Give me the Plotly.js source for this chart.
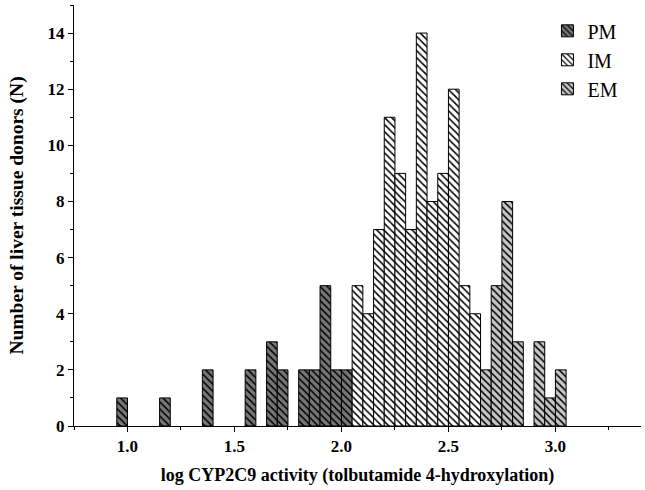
<!DOCTYPE html>
<html>
<head>
<meta charset="utf-8">
<script src="https://cdn.plot.ly/plotly-3.0.1.min.js"></script>
<style>html,body{margin:0;padding:0;background:#fff;}#chart{width:645px;height:490px;}</style>
</head>
<body>
<div id="chart"></div>
<script>
// Bin left edges (log units, bin width 0.05) and donor counts per phenotype group
const binWidth = 0.05;
const pmBins = [0.95, 1.15, 1.35, 1.55, 1.65, 1.70, 1.80, 1.85, 1.90, 1.95, 2.00];
const pmCounts = [1, 1, 2, 2, 3, 2, 2, 2, 5, 2, 2];
const imBins = [2.05, 2.10, 2.15, 2.20, 2.25, 2.30, 2.35, 2.40, 2.45, 2.50, 2.55, 2.60];
const imCounts = [5, 4, 7, 11, 9, 7, 14, 8, 9, 12, 5, 4];
const emBins = [2.65, 2.70, 2.75, 2.80, 2.90, 2.95, 3.00];
const emCounts = [2, 5, 8, 3, 3, 1, 2];
const groupNames = ['PM', 'IM', 'EM'];
const xTickVals = [1.0, 1.5, 2.0, 2.5, 3.0];
const xTickText = ['1.0', '1.5', '2.0', '2.5', '3.0'];
const yTickVals = [0, 2, 4, 6, 8, 10, 12, 14];

const serif = 'Liberation Serif, Times New Roman, serif';

function barTrace(name, bins, counts, fill) {
  return {
    type: 'bar',
    name: name,
    x: bins,
    y: counts,
    width: binWidth,
    offset: 0,
    marker: {
      color: fill,
      line: {color: '#000', width: 1},
      pattern: {shape: '\\', fgcolor: '#000', bgcolor: fill, size: 5, solidity: 0.3, fillmode: 'replace'}
    },
    hoverinfo: 'x+y'
  };
}

const data = [
  barTrace(groupNames[0], pmBins, pmCounts, '#777777'),
  barTrace(groupNames[1], imBins, imCounts, '#ffffff'),
  barTrace(groupNames[2], emBins, emCounts, '#c6c6c6')
];

const layout = {
  width: 645, height: 490,
  margin: {l: 74, r: 4, t: 5, b: 64},
  paper_bgcolor: '#fff', plot_bgcolor: '#fff',
  barmode: 'overlay',
  bargap: 0,
  showlegend: true,
  legend: {
    x: 0.835, y: 0.985, xanchor: 'left', yanchor: 'top',
    font: {family: serif, size: 20, color: '#000'},
    bgcolor: 'rgba(0,0,0,0)', tracegroupgap: 0,
    traceorder: 'normal'
  },
  xaxis: {
    range: [0.75, 3.4],
    tickvals: xTickVals, ticktext: xTickText,
    ticks: 'outside', ticklen: 5, tickwidth: 1, tickcolor: '#000',
    minor: {dtick: 0.25, tick0: 0.75, ticks: 'outside', ticklen: 3, tickwidth: 1, tickcolor: '#000', showgrid: false},
    showline: true, linecolor: '#000', linewidth: 1,
    showgrid: false, zeroline: false,
    tickfont: {family: serif, size: 17, color: '#000', weight: 'bold'},
    title: {text: '<b>log CYP2C9 activity (tolbutamide 4-hydroxylation)</b>', font: {family: serif, size: 18, color: '#000'}, standoff: 12}
  },
  yaxis: {
    range: [0, 15],
    tickvals: yTickVals,
    ticks: 'outside', ticklen: 5, tickwidth: 1, tickcolor: '#000',
    minor: {dtick: 1, tick0: 0, ticks: 'outside', ticklen: 3, tickwidth: 1, tickcolor: '#000', showgrid: false},
    showline: true, linecolor: '#000', linewidth: 1,
    showgrid: false, zeroline: false,
    tickfont: {family: serif, size: 17, color: '#000', weight: 'bold'},
    title: {text: '<b>Number of liver tissue donors (N)</b>', font: {family: serif, size: 19.5, color: '#000'}, standoff: 18}
  }
};

Plotly.newPlot('chart', data, layout, {displayModeBar: false, staticPlot: true});
</script>
</body>
</html>
